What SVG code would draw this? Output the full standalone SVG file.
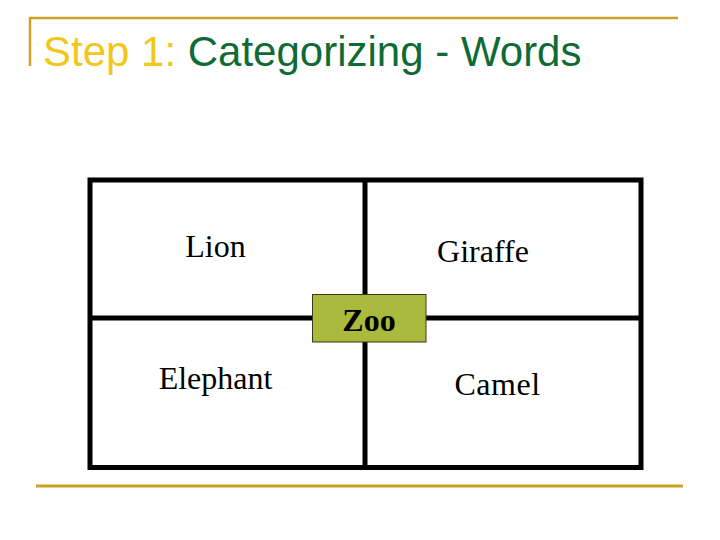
<svg xmlns="http://www.w3.org/2000/svg" width="720" height="540" viewBox="0 0 720 540">
  <style>
    .rule { stroke: #c9a227; fill: none; }
    .grid { stroke: #000; stroke-width: 5; fill: none; }
    .cell { font-family: "Liberation Serif", "Times New Roman", serif; font-size: 32px; fill: #000; text-anchor: middle; }
    .title { font-family: "Liberation Sans", Arial, sans-serif; font-size: 42px; }
  </style>
  <rect x="0" y="0" width="720" height="540" fill="#ffffff"/>
  <g id="frame">
    <polyline class="rule" stroke-width="2.5" points="30,66 30,18 678,18"/>
    <line class="rule" stroke-width="3" x1="36" y1="486" x2="683" y2="486"/>
  </g>
  <g id="title">
    <text class="title" x="43" y="66"><tspan fill="#f2c71b">Step 1: </tspan><tspan fill="#0f6b35">Categorizing - Words</tspan></text>
  </g>
  <g id="connectors">
    <rect class="grid" x="90" y="180" width="551" height="287.5"/>
    <line class="grid" x1="365" y1="180" x2="365" y2="467.5"/>
    <line class="grid" x1="90" y1="318" x2="641" y2="318"/>
  </g>
  <g id="lion"><text class="cell" x="215.5" y="257">Lion</text></g>
  <g id="giraffe"><text class="cell" x="483" y="262">Giraffe</text></g>
  <g id="elephant"><text class="cell" x="215.5" y="389">Elephant</text></g>
  <g id="camel"><text class="cell" x="497.5" y="395" letter-spacing="0.5">Camel</text></g>
  <g id="zoo">
    <rect x="312.5" y="294.5" width="113.5" height="47.5" fill="#a9ba3c" stroke="#3a3a1a" stroke-width="1"/>
    <text class="cell" x="369" y="331" font-weight="bold" font-size="33">Zoo</text>
  </g>
</svg>
